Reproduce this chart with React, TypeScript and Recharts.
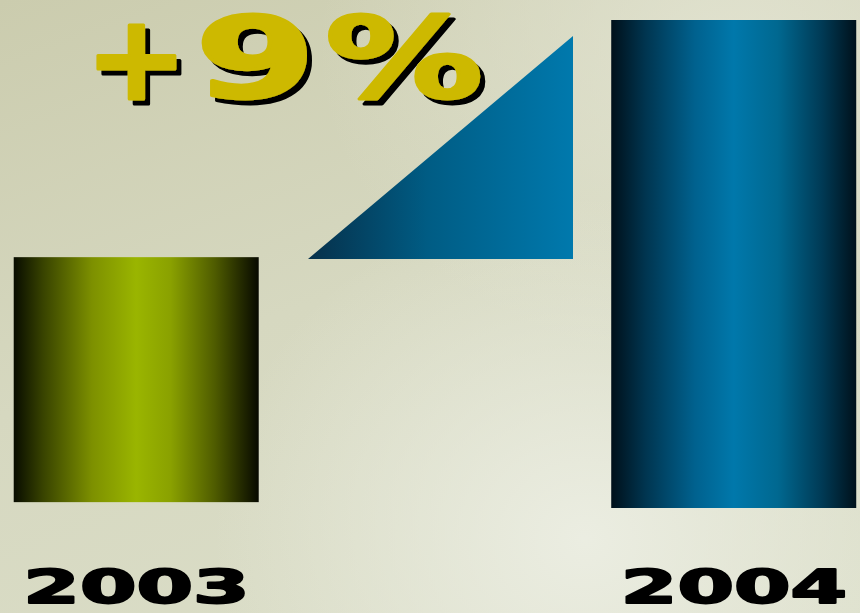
import React from 'react';
import { BarChart, Bar, XAxis, YAxis, AreaChart, Area } from 'recharts';

// bar values (relative units, 2004 = 100), drawn as [low, high] ranges
const years = [2003, 2004];
const barLow = [1.2, 0];
const barHigh = [51.4, 100];

// growth wedge: 0 -> +9 %
const growthSteps = [0, 1];
const growthValues = [0, 9];
const growthLabel = ['+', '9', '%'];

const barData = years.map((year, i) => ({ year, low: barLow[i], high: barHigh[i] }));
const growthData = growthSteps.map((step, i) => ({ step, growth: growthValues[i] }));

const W = 860;
const H = 613;

// wide heavy lettering: DejaVu Bold stretched horizontally
const YearTick = ({ x, y, payload }: any) => (
  <g transform={`translate(${x},${y + 93}) scale(1.73,1)`}>
    <text
      x={0}
      y={0}
      textAnchor="middle"
      fontFamily="DejaVu Sans"
      fontWeight="bold"
      fontSize={47}
      fill="#000"
      stroke="#000"
      strokeWidth={2}
      strokeLinejoin="round"
    >
      {payload.value}
    </text>
  </g>
);

// per glyph: translate x, baseline, horizontal stretch, font size
const glyphStyle = [
  { tx: 85, ty: 99, sx: 1.04, fs: 118 },
  { tx: 195, ty: 97, sx: 1.55, fs: 112 },
  { tx: 325, ty: 97, sx: 1.41, fs: 112 },
];

const Headline = () => (
  <svg
    width={W}
    height={130}
    style={{ position: 'absolute', left: 0, top: 0, pointerEvents: 'none' }}
  >
    <defs>
      <filter id="drop" x="-10%" y="-10%" width="130%" height="130%">
        <feOffset in="SourceAlpha" dx={5} dy={5} result="off" />
        <feMerge>
          <feMergeNode in="off" />
          <feMergeNode in="SourceGraphic" />
        </feMerge>
      </filter>
    </defs>
    <g filter="url(#drop)">
      {growthLabel.map((ch, i) => {
        const g = glyphStyle[i];
        return (
          <g key={i} transform={`translate(${g.tx},${g.ty}) scale(${g.sx},1)`}>
            <text
              x={0}
              y={0}
              fontFamily="DejaVu Sans"
              fontWeight="bold"
              fontSize={g.fs}
              fill="#cdb900"
              stroke="#cdb900"
              strokeWidth={3}
              strokeLinejoin="round"
            >
              {ch}
            </text>
          </g>
        );
      })}
    </g>
  </svg>
);

export default function App() {
  return (
    <div
      style={{
        position: 'absolute',
        left: 0,
        top: 0,
        width: W,
        height: H,
        overflow: 'hidden',
        background:
          'radial-gradient(ellipse at 68% 88%, rgba(236,238,227,0.95) 0%, rgba(236,238,227,0) 45%),' +
          'radial-gradient(ellipse at 85% 8%, rgba(228,229,212,0.8) 0%, rgba(228,229,212,0) 40%),' +
          'linear-gradient(160deg, #cbccae 0%, #d6d8c0 45%, #dcdfca 100%)',
      }}
    >
      <BarChart
        width={W}
        height={H}
        data={barData}
        margin={{ top: 20, right: 0, bottom: 75, left: 0 }}
      >
        <defs>
          <linearGradient id="green" x1="0" y1="0" x2="1" y2="0">
            <stop offset="0%" stopColor="#080c00" />
            <stop offset="12%" stopColor="#384300" />
            <stop offset="32%" stopColor="#7d9000" />
            <stop offset="50%" stopColor="#9ab500" />
            <stop offset="64%" stopColor="#8aa100" />
            <stop offset="82%" stopColor="#4f5c00" />
            <stop offset="100%" stopColor="#070900" />
          </linearGradient>
          <linearGradient id="blue" x1="0" y1="0" x2="1" y2="0">
            <stop offset="0%" stopColor="#00101a" />
            <stop offset="14%" stopColor="#003550" />
            <stop offset="34%" stopColor="#00618e" />
            <stop offset="50%" stopColor="#0078ab" />
            <stop offset="68%" stopColor="#006890" />
            <stop offset="86%" stopColor="#003a55" />
            <stop offset="100%" stopColor="#00111b" />
          </linearGradient>
        </defs>
        <XAxis
          type="number"
          dataKey="year"
          domain={[2002.7716, 2004.2109]}
          ticks={years}
          axisLine={false}
          tickLine={false}
          tickSize={0}
          height={30}
          tick={<YearTick />}
          allowDataOverflow
        />
        <YAxis hide domain={[0, 100]} />
        <Bar
          dataKey={(d: any) => [d.low, d.high]}
          barSize={245}
          isAnimationActive={false}
          shape={(p: any) => (
            <rect
              x={p.x}
              y={p.y}
              width={p.width}
              height={p.height}
              fill={p.payload.year === 2003 ? 'url(#green)' : 'url(#blue)'}
            />
          )}
        />
      </BarChart>

      <div style={{ position: 'absolute', left: 308, top: 36 }}>
        <AreaChart
          width={265}
          height={223}
          data={growthData}
          margin={{ top: 0, right: 0, bottom: 0, left: 0 }}
        >
          <defs>
            <linearGradient id="wedge" x1="0" y1="0" x2="1" y2="0">
              <stop offset="0%" stopColor="#06304a" />
              <stop offset="45%" stopColor="#005c84" />
              <stop offset="100%" stopColor="#0079ad" />
            </linearGradient>
          </defs>
          <XAxis type="number" dataKey="step" domain={[0, 1]} hide />
          <YAxis hide domain={[0, 9]} />
          <Area
            type="linear"
            dataKey="growth"
            stroke="none"
            fill="url(#wedge)"
            fillOpacity={1}
            isAnimationActive={false}
          />
        </AreaChart>
      </div>

      <Headline />
    </div>
  );
}
